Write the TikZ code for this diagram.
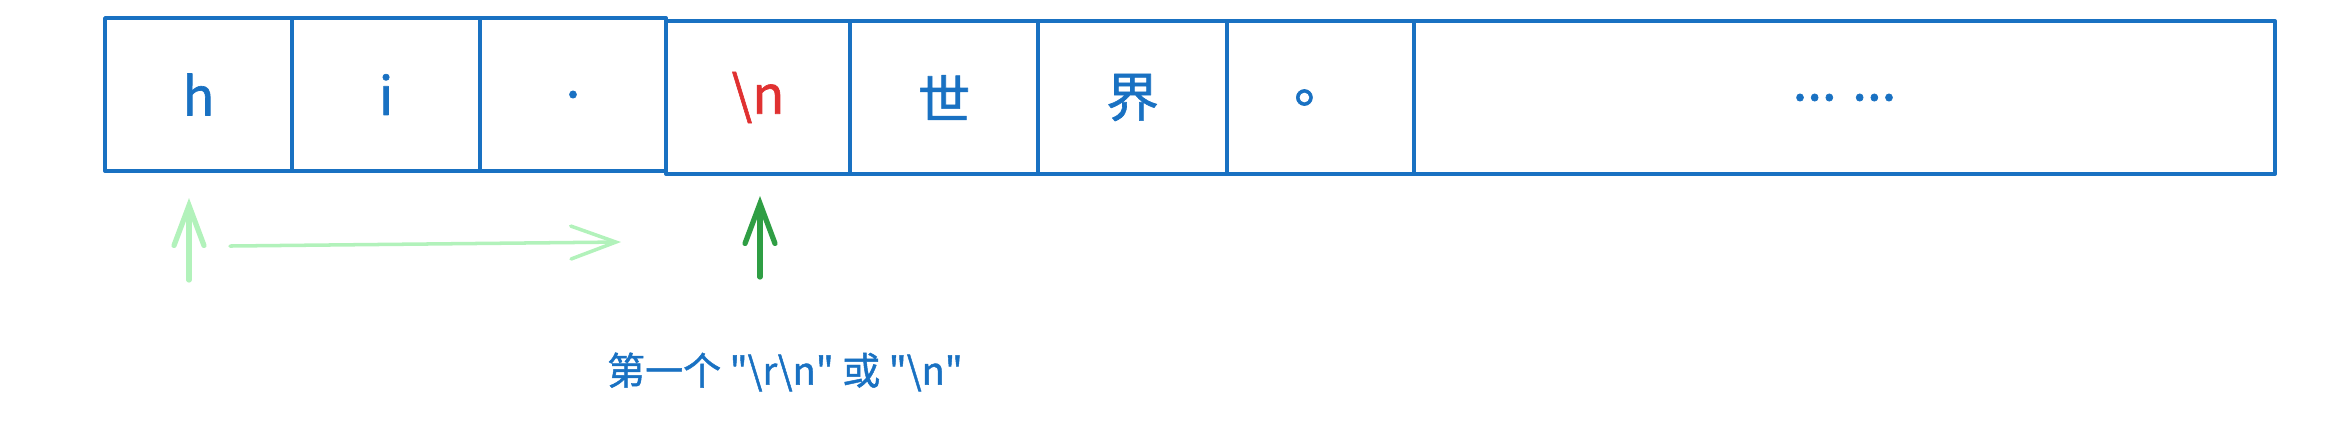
\documentclass[tikz,border=0pt]{standalone}
\usepackage{fontspec}
\setmainfont{Noto Sans CJK SC}[Ligatures=TeXOff]
\newfontfamily\hand{Noto Sans CJK SC}[Ligatures=TeXOff, FakeBold=1.2]
\usetikzlibrary{arrows.meta}
\definecolor{exblue}{HTML}{1971C2}
\definecolor{exred}{HTML}{E03131}
\definecolor{lgreen}{HTML}{B2F2BB}
\definecolor{dgreen}{HTML}{2F9E44}
\tikzset{
  cell/.style={draw=exblue, line width=1.1pt, text=exblue, inner sep=0pt, outer sep=0pt,
    font=\hand\fontsize{15pt}{17pt}\selectfont, line join=round},
  uparrow/.style={line width=1.5pt, line cap=round,
    -{Straight Barb[length=4mm, width=3mm, line cap=round]}},
  rarrow/.style={line width=1pt, line cap=round,
    -{Straight Barb[length=4.5mm, width=3.3mm, line cap=round]}},
  lbl/.style={text=exblue, font=\hand\fontsize{10.8pt}{13pt}\selectfont, inner sep=0pt}
}
\begin{document}
\begin{tikzpicture}[x=0.1mm, y=-0.1mm]
\useasboundingbox (0,0) rectangle (2340,420);
% cells
\node[cell, minimum width=18.7mm, minimum height=15.3mm] (c1) at (198.5,94.5) {h};
\node[cell, minimum width=18.8mm, minimum height=15.3mm] (c2) at (386,94.5) {i};
\node[cell, minimum width=18.6mm, minimum height=15.3mm] (c3) at (573,94.5) {.};
\node[cell, minimum width=18.4mm, minimum height=15.3mm, text=exred] (c4) at (758,97.5) {\textbackslash n};
\node[cell, minimum width=18.8mm, minimum height=15.3mm] (c5) at (944,97.5) {世};
\node[cell, minimum width=18.9mm, minimum height=15.3mm] (c6) at (1132.5,97.5) {界};
\node[cell, minimum width=18.7mm, minimum height=15.3mm] (c7) at (1320.5,97.5) {。};
\node[cell, minimum width=86.1mm, minimum height=15.3mm] (c8) at (1844.5,97.5) {... ...};
% arrows
\coordinate (a1s) at (189,280);
\coordinate (a1e) at (189,198);
\draw[uparrow, lgreen] (a1s) -- (a1e);
\coordinate (hs) at (230,246);
\coordinate (he) at (621,242);
\draw[rarrow, lgreen] (hs) -- (he);
\coordinate (a2s) at (760,277);
\coordinate (a2e) at (760,196);
\draw[uparrow, dgreen] (a2s) -- (a2e);
% label
\node[lbl] (label) at (785,372) {第一个 "\textbackslash r\textbackslash n" 或 "\textbackslash n"};
\end{tikzpicture}
\end{document}
